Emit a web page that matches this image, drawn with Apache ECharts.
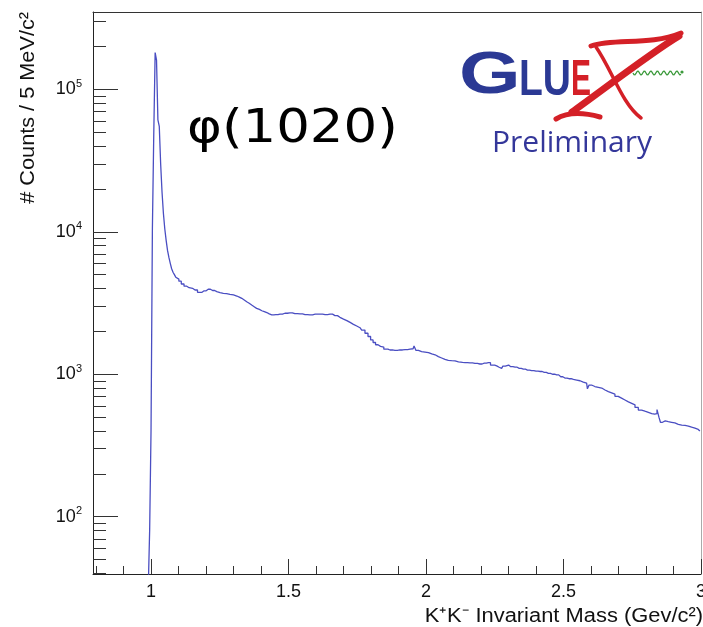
<!DOCTYPE html>
<html>
<head>
<meta charset="utf-8">
<script src="https://cdn.jsdelivr.net/npm/echarts@6/dist/echarts.min.js"></script>
<style>
  html, body { margin: 0; padding: 0; background: #fff; }
  #chart { width: 703px; height: 627px; }
</style>
</head>
<body>
<div id="chart"></div>
<script>
// K+K- invariant mass spectrum, 5 MeV bins (bin centres in GeV/c^2)
const massGeV = [
  0.9875, 0.9925, 0.9975, 1.0025, 1.0075, 1.0125, 1.0175, 1.0225, 1.0275, 1.0325,
  1.0375, 1.0425, 1.0475, 1.0525, 1.0575, 1.0625, 1.0675, 1.0725, 1.0775, 1.0825,
  1.0875, 1.0925, 1.0975, 1.105, 1.115, 1.125, 1.135,
  1.142, 1.16, 1.178, 1.193, 1.208, 1.224, 1.239, 1.251, 1.263, 1.275,
  1.287, 1.300, 1.312, 1.321, 1.330, 1.339, 1.348, 1.357, 1.366, 1.375,
  1.384, 1.394, 1.403, 1.412, 1.421, 1.430, 1.439, 1.454, 1.469, 1.487,
  1.505, 1.523, 1.542, 1.560, 1.578, 1.597, 1.615, 1.633, 1.651, 1.669,
  1.687, 1.700, 1.712, 1.724, 1.736, 1.748, 1.760, 1.772, 1.784, 1.794,
  1.803, 1.812, 1.821, 1.830, 1.839, 1.854, 1.869, 1.887, 1.905, 1.924,
  1.942, 1.953, 1.960, 1.967, 1.978, 1.990, 2.003, 2.015, 2.027, 2.039,
  2.051, 2.063, 2.075, 2.087, 2.099, 2.112, 2.124, 2.142, 2.160, 2.178,
  2.196, 2.212, 2.227, 2.242, 2.257, 2.266, 2.275, 2.284, 2.293, 2.308,
  2.324, 2.339, 2.354, 2.369, 2.384, 2.400, 2.415, 2.430, 2.445, 2.460,
  2.475, 2.490, 2.505, 2.520, 2.536, 2.548, 2.560, 2.572, 2.584, 2.590,
  2.596, 2.608, 2.620, 2.633, 2.645, 2.657, 2.669, 2.681, 2.693, 2.705,
  2.717, 2.730, 2.742, 2.754, 2.766, 2.778, 2.790, 2.802, 2.815, 2.827,
  2.836, 2.844, 2.850, 2.855, 2.865, 2.875, 2.887, 2.899, 2.911, 2.924,
  2.936, 2.948, 2.960, 2.972, 2.984, 2.996
];
const counts = [
  20, 20, 80, 400, 10600, 49000, 181000, 160000, 61000, 55000,
  30000, 19000, 13500, 10500, 8700, 7400, 6600, 6000, 5500, 5200,
  5000, 4800, 4650, 4500, 4300, 4150, 4050,
  4010, 3900, 3760, 3850, 3950, 3870, 3800, 3740, 3700, 3680,
  3640, 3600, 3540, 3480, 3410, 3320, 3230, 3150, 3060, 2980,
  2900, 2850, 2790, 2750, 2710, 2650, 2610, 2620, 2640, 2680,
  2700, 2660, 2650, 2620, 2610, 2640, 2640, 2620, 2640, 2580,
  2510, 2440, 2380, 2310, 2240, 2180, 2120, 2040, 1940, 1840,
  1740, 1670, 1610, 1570, 1550, 1500, 1480, 1470, 1480, 1490,
  1500, 1510, 1580, 1470, 1440, 1430, 1420, 1390, 1370, 1330,
  1300, 1270, 1250, 1245, 1240, 1220, 1210, 1205, 1200, 1190,
  1180, 1195, 1205, 1160, 1145, 1120, 1100, 1140, 1160, 1130,
  1120, 1100, 1085, 1070, 1060, 1050, 1045, 1030, 1015, 1000,
  990, 960, 940, 930, 920, 910, 900, 880, 865, 790,
  840, 820, 810, 800, 775, 755, 740, 725, 700, 680,
  660, 640, 625, 610, 585, 560, 550, 540, 530, 525,
  530, 565, 500, 460, 470, 465, 460, 455, 445, 440,
  437, 433, 425, 418, 410, 400
];

// axis ranges and tick positions
const xRange = [0.789, 3.0];
const yRange = [39.62, 348700];
const xMajorTicks = [1, 1.5, 2, 2.5, 3];
const xMinorTicks = [0.8, 0.9, 1.1, 1.2, 1.3, 1.4, 1.6, 1.7, 1.8, 1.9,
                     2.1, 2.2, 2.3, 2.4, 2.6, 2.7, 2.8, 2.9];
const yMajorTicks = [100, 1000, 10000, 100000];
const yMinorTicks = [40, 50, 60, 70, 80, 90,
                     200, 300, 400, 500, 600, 700, 800, 900,
                     2000, 3000, 4000, 5000, 6000, 7000, 8000, 9000,
                     20000, 30000, 40000, 50000, 60000, 70000, 80000, 90000,
                     200000, 300000];

const FONT = '"Liberation Sans", Arial, sans-serif';
const AXIS_COLOR = '#222';
const RED = '#d42027';
const NAVY = '#2b3994';

const chart = echarts.init(document.getElementById('chart'), null, { renderer: 'canvas' });

// small wavy gluon line in the logo
const wave = [];
for (let i = 0; i <= 48; i++) {
  wave.push([633 + i, 73 + 2 * Math.sin((i / 6.5) * 2 * Math.PI)]);
}

// frame-only axis (no ticks, no labels)
function frameAxis(range, type, position, color) {
  return {
    type: type, min: range[0], max: range[1], position: position,
    axisLine: { show: true, lineStyle: { color: color, width: 1 } },
    axisTick: { show: false }, axisLabel: { show: false }, splitLine: { show: false }
  };
}

const option = {
  animation: false,
  backgroundColor: '#fff',
  grid: {
    left: 93, top: 12, width: 608, height: 562,
    outerBoundsMode: 'none', containLabel: false, show: false
  },
  xAxis: [
    {
      type: 'value', min: xRange[0], max: xRange[1], position: 'bottom',
      axisLine: { show: true, lineStyle: { color: AXIS_COLOR, width: 1 } },
      axisTick: { show: true, inside: true, length: 15, customValues: xMajorTicks,
                  lineStyle: { color: '#333', width: 1 } },
      axisLabel: { show: true, customValues: xMajorTicks, margin: 9,
                   fontFamily: FONT, fontSize: 18, color: '#111',
                   formatter: v => String(v) },
      splitLine: { show: false }
    },
    {
      type: 'value', min: xRange[0], max: xRange[1], position: 'bottom',
      axisLine: { show: false },
      axisTick: { show: true, inside: true, length: 8, customValues: xMinorTicks,
                  lineStyle: { color: '#333', width: 1 } },
      axisLabel: { show: false },
      splitLine: { show: false }
    },
    frameAxis(xRange, 'value', 'top', '#333')
  ],
  yAxis: [
    {
      type: 'log', logBase: 10, min: yRange[0], max: yRange[1], position: 'left',
      axisLine: { show: true, lineStyle: { color: AXIS_COLOR, width: 1 } },
      axisTick: { show: true, inside: true, length: 25, customValues: yMajorTicks,
                  lineStyle: { color: '#333', width: 1 } },
      axisLabel: {
        show: true, customValues: yMajorTicks, margin: 11,
        formatter: v => '{b|10}{e|' + Math.round(Math.log10(v)) + '}',
        rich: {
          b: { fontFamily: FONT, fontSize: 18, color: '#111', lineHeight: 22 },
          e: { fontFamily: FONT, fontSize: 11, color: '#111', lineHeight: 11, padding: [0, 0, 11, 0] }
        }
      },
      splitLine: { show: false }
    },
    {
      type: 'log', logBase: 10, min: yRange[0], max: yRange[1], position: 'left',
      axisLine: { show: false },
      axisTick: { show: true, inside: true, length: 13, customValues: yMinorTicks,
                  lineStyle: { color: '#333', width: 1 } },
      axisLabel: { show: false },
      splitLine: { show: false }
    },
    frameAxis(yRange, 'log', 'right', '#aaa')
  ],
  series: [
    {
      name: 'K+K-',
      type: 'line',
      xAxisIndex: 0, yAxisIndex: 0,
      data: massGeV.map((m, i) => [m, counts[i]]),
      step: 'middle',
      symbol: 'none',
      clip: true,
      lineStyle: { color: '#4a4ec2', width: 1.3 }
    }
  ],
  graphic: [
    // axis titles
    {
      type: 'text', x: 28, y: 12, rotation: Math.PI / 2, scaleX: 1.085,
      style: { text: '# Counts / 5 MeV/c²', font: '20px ' + FONT, fill: '#111',
               align: 'right', verticalAlign: 'middle' }
    },
    {
      type: 'text', x: 703, y: 616, scaleX: 1.095,
      style: { text: 'K⁺K⁻ Invariant Mass (Gev/c²)', font: '20px ' + FONT, fill: '#111',
               align: 'right', verticalAlign: 'middle' }
    },
    // resonance annotation
    {
      type: 'text', x: 187, y: 130, scaleX: 1.15,
      style: { text: 'φ(1020)', font: '46px "DejaVu Sans", sans-serif', fill: '#000',
               align: 'left', verticalAlign: 'middle' }
    },
    // GlueX logo
    {
      type: 'text', x: 459, y: 76.5, scaleX: 1.32,
      style: { text: 'G', font: 'bold 60px ' + FONT, fill: NAVY, verticalAlign: 'middle' }
    },
    {
      type: 'text', x: 519, y: 81, scaleX: 0.78,
      style: { text: 'LU', font: 'bold 50px ' + FONT, fill: NAVY, verticalAlign: 'middle' }
    },
    {
      type: 'text', x: 571, y: 81, scaleX: 0.6,
      style: { text: 'E', font: 'bold 50px ' + FONT, fill: RED, verticalAlign: 'middle' }
    },
    // brush-stroke X
    {
      type: 'bezierCurve',
      shape: { x1: 679, y1: 36, cpx1: 652, cpy1: 52, cpx2: 600, cpy2: 92, x2: 572, y2: 112 },
      style: { stroke: RED, lineWidth: 7, fill: null, lineCap: 'round' }
    },
    {
      type: 'bezierCurve',
      shape: { x1: 556, y1: 119, cpx1: 566, cpy1: 113, cpx2: 582, cpy2: 112, x2: 600, y2: 117 },
      style: { stroke: RED, lineWidth: 5, fill: null, lineCap: 'round' }
    },
    {
      type: 'bezierCurve',
      shape: { x1: 591, y1: 46, cpx1: 615, cpy1: 38, cpx2: 650, cpy2: 46, x2: 681, y2: 33 },
      style: { stroke: RED, lineWidth: 5, fill: null, lineCap: 'round' }
    },
    {
      type: 'bezierCurve',
      shape: { x1: 596, y1: 47, cpx1: 612, cpy1: 70, cpx2: 622, cpy2: 104, x2: 641, y2: 118 },
      style: { stroke: RED, lineWidth: 3.5, fill: null, lineCap: 'round' }
    },
    {
      type: 'polyline',
      shape: { points: wave },
      style: { stroke: '#3c9a3c', lineWidth: 1.3, fill: null }
    },
    {
      type: 'circle', shape: { cx: 682, cy: 72, r: 1.6 },
      style: { fill: '#3c9a3c' }
    },
    {
      type: 'text', x: 492, y: 143,
      style: { text: 'Preliminary', font: '30px "Open Sans", sans-serif', fill: '#34379a',
               verticalAlign: 'middle' }
    }
  ]
};

chart.setOption(option);
</script>
</body>
</html>
